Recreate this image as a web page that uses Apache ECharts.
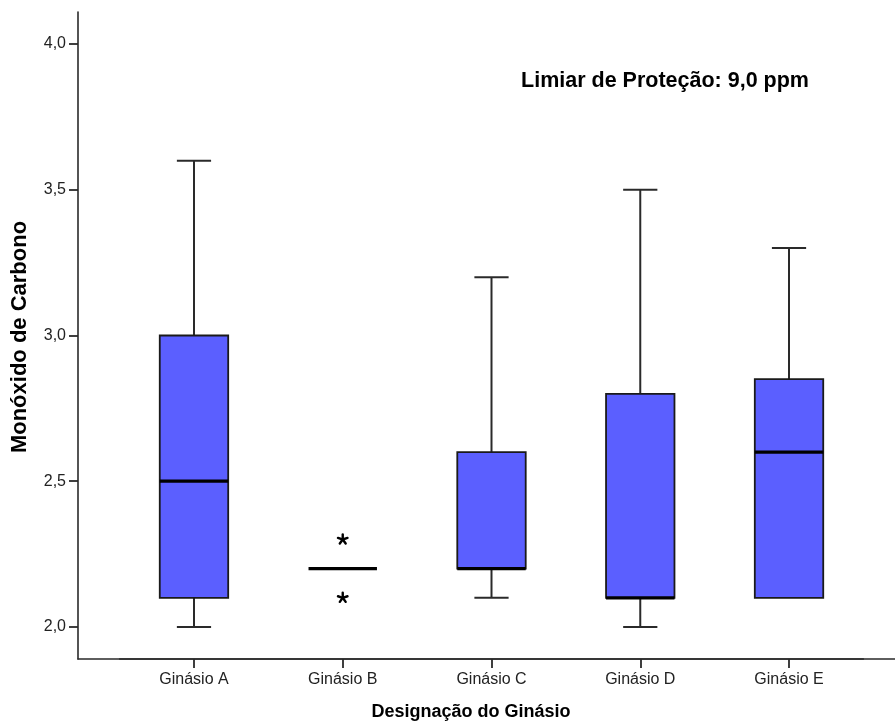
<!DOCTYPE html>
<html>
<head>
<meta charset="utf-8">
<script src="https://cdn.jsdelivr.net/npm/echarts@6/dist/echarts.min.js"></script>
<style>html,body{margin:0;padding:0;background:#fff;}#c{width:895px;height:725px;}</style>
</head>
<body>
<div id="c"></div>
<script>
const categories = ['Ginásio A', 'Ginásio B', 'Ginásio C', 'Ginásio D', 'Ginásio E'];
const whiskerLow = [2.0, 2.2, 2.1, 2.0, 2.1];
const q1 = [2.1, 2.2, 2.2, 2.1, 2.1];
const median = [2.5, 2.2, 2.2, 2.1, 2.6];
const q3 = [3.0, 2.2, 2.6, 2.8, 2.85];
const whiskerHigh = [3.6, 2.2, 3.2, 3.5, 3.3];
const outliers = [[1, 2.3], [1, 2.1]];
const yTicks = [2.0, 2.5, 3.0, 3.5, 4.0];
const yMin = 1.89, yMax = 4.11;

const FONT = 'Arial, "Liberation Sans", sans-serif';
const boxData = categories.map((c, i) => [i, whiskerLow[i], q1[i], median[i], q3[i], whiskerHigh[i]]);

function renderBox(params, api) {
  const idx = api.value(0);
  const band = api.size([1, 0])[0];
  const bw = band * 0.46, cw = band * 0.23;
  const lo = api.coord([idx, api.value(1)]);
  const b1 = api.coord([idx, api.value(2)]);
  const md = api.coord([idx, api.value(3)]);
  const b3 = api.coord([idx, api.value(4)]);
  const hi = api.coord([idx, api.value(5)]);
  const x = lo[0];
  const wStyle = {stroke: '#2a2a2a', lineWidth: 2, fill: null};
  const children = [];
  if (b3[1] - hi[1] > 0.5) {
    children.push({type: 'line', shape: {x1: x, y1: hi[1], x2: x, y2: b3[1]}, style: wStyle});
    children.push({type: 'line', shape: {x1: x - cw / 2, y1: hi[1], x2: x + cw / 2, y2: hi[1]}, style: wStyle});
  }
  if (lo[1] - b1[1] > 0.5) {
    children.push({type: 'line', shape: {x1: x, y1: b1[1], x2: x, y2: lo[1]}, style: wStyle});
    children.push({type: 'line', shape: {x1: x - cw / 2, y1: lo[1], x2: x + cw / 2, y2: lo[1]}, style: wStyle});
  }
  if (b1[1] - b3[1] > 0.5) {
    children.push({type: 'rect', shape: {x: x - bw / 2, y: b3[1], width: bw, height: b1[1] - b3[1]},
      style: {fill: '#5b5fff', stroke: '#1a1a1a', lineWidth: 1.8}});
  }
  children.push({type: 'line', shape: {x1: x - bw / 2, y1: md[1], x2: x + bw / 2, y2: md[1]},
    style: {stroke: '#000', lineWidth: 3.2}});
  return {type: 'group', children: children};
}

function renderStar(params, api) {
  const p = api.coord([api.value(0), api.value(1)]);
  const r = 5;
  const children = [];
  for (let k = 0; k < 5; k++) {
    const a = -Math.PI / 2 + k * 2 * Math.PI / 5;
    children.push({type: 'line', shape: {x1: p[0], y1: p[1], x2: p[0] + r * Math.cos(a), y2: p[1] + r * Math.sin(a)},
      style: {stroke: '#000', lineWidth: 2.4, lineCap: 'round'}});
  }
  return {type: 'group', children: children};
}

const chart = echarts.init(document.getElementById('c'), null, {renderer: 'canvas'});
chart.setOption({
  backgroundColor: '#fff',
  animation: false,
  grid: [
    {left: 119.6, right: 31.6, top: 12, bottom: 66},
    {left: 78, right: 0, top: 12, bottom: 66}
  ],
  xAxis: [
    {type: 'category', data: categories, gridIndex: 0, boundaryGap: true,
      axisLine: {show: true, lineStyle: {color: '#2a2a2a', width: 1.6}},
      axisTick: {show: true, alignWithLabel: true, length: 9, lineStyle: {color: '#2a2a2a', width: 1.8}},
      axisLabel: {margin: 13, fontSize: 16, fontFamily: FONT, color: '#222'},
      splitLine: {show: false}},
    {type: 'value', gridIndex: 1, min: 0, max: 1,
      axisLine: {show: true, onZero: false, lineStyle: {color: '#2a2a2a', width: 1.6}},
      axisTick: {show: false}, axisLabel: {show: false}, splitLine: {show: false}}
  ],
  yAxis: [
    {type: 'value', gridIndex: 0, min: yMin, max: yMax, offset: 41.6,
      axisLine: {show: true, lineStyle: {color: '#2a2a2a', width: 1.6}},
      axisTick: {show: true, length: 9, customValues: yTicks, lineStyle: {color: '#2a2a2a', width: 1.8}},
      axisLabel: {margin: 12, fontSize: 16, fontFamily: FONT, color: '#222', customValues: yTicks,
        formatter: v => v.toFixed(1).replace('.', ',')},
      splitLine: {show: false}},
    {type: 'value', gridIndex: 1, min: 0, max: 1, show: false}
  ],
  graphic: [
    {type: 'text', x: 20, y: 337, rotation: Math.PI / 2,
      style: {text: 'Monóxido de Carbono', font: 'bold 22px ' + FONT, fill: '#000', textAlign: 'center', textVerticalAlign: 'middle'}},
    {type: 'text', x: 471, y: 712,
      style: {text: 'Designação do Ginásio', font: 'bold 18px ' + FONT, fill: '#000', textAlign: 'center', textVerticalAlign: 'middle'}},
    {type: 'text', x: 665, y: 81,
      style: {text: 'Limiar de Proteção: 9,0 ppm', font: 'bold 21.5px ' + FONT, fill: '#000', textAlign: 'center', textVerticalAlign: 'middle'}}
  ],
  series: [
    {type: 'custom', xAxisIndex: 0, yAxisIndex: 0, data: boxData, renderItem: renderBox,
      encode: {x: 0, y: [1, 2, 3, 4, 5]}, clip: false},
    {type: 'custom', xAxisIndex: 0, yAxisIndex: 0, data: outliers, renderItem: renderStar,
      encode: {x: 0, y: 1}}
  ]
});
</script>
</body>
</html>
